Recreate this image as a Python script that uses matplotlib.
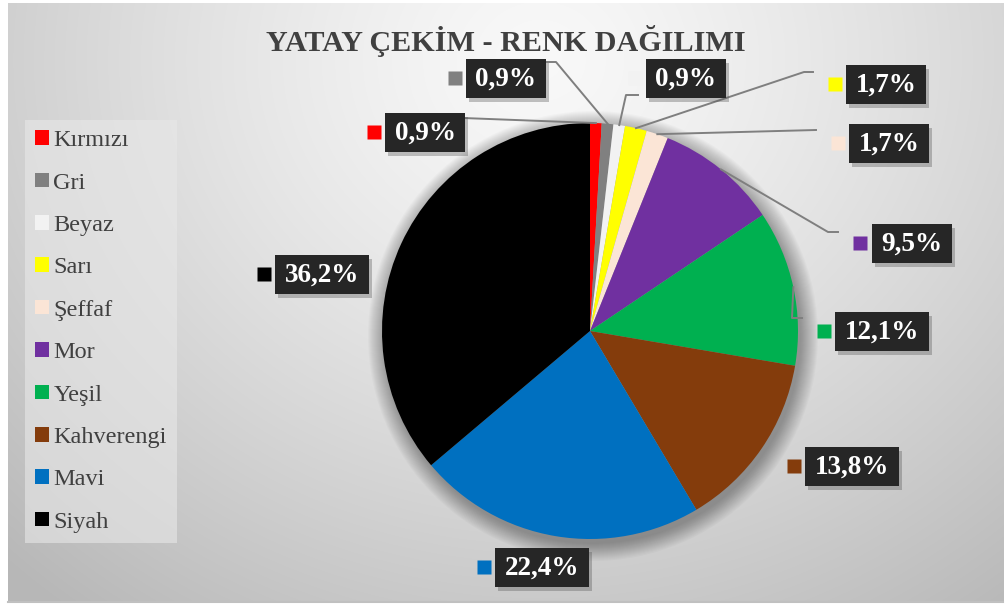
import numpy as np
import matplotlib.pyplot as plt
from matplotlib.patches import Rectangle, Circle, Patch

renkler = ['Kırmızı', 'Gri', 'Beyaz', 'Sarı', 'Şeffaf', 'Mor', 'Yeşil', 'Kahverengi', 'Mavi', 'Siyah']
yuzdeler = [0.9, 0.9, 0.9, 1.7, 1.7, 9.5, 12.1, 13.8, 22.4, 36.2]
dolgu = ['#FF0000', '#808080', '#F2F2F2', '#FFFF00', '#FBE5D6',
         '#7030A0', '#00B050', '#843C0C', '#0070C0', '#000000']
baslik = 'YATAY ÇEKİM - RENK DAĞILIMI'

W, H = 1005, 607
plt.rcParams['font.family'] = ['Liberation Serif', 'DejaVu Serif']

fig = plt.figure(figsize=(W / 100, H / 100), dpi=100)
ax = fig.add_axes([0, 0, 1, 1])

# arka plan (radyal gri gecis)
yy, xx = np.mgrid[0:H, 0:W]
d = np.hypot(xx - 540, (yy - 60) / 0.9)
g = np.clip(0.975 - 0.2 * (d / 640) ** 1.3, 0.72, 1)
img = np.ones((H, W, 3))
panel = (xx >= 8) & (xx <= 1003) & (yy >= 3) & (yy <= 602)
img[panel] = g[panel][:, None]
ax.imshow(img, extent=(0, W, H, 0), zorder=0)
ax.plot([8, 1003], [602, 602], color='#c0c0c0', lw=1.5, zorder=1)

# pasta golgesi
cx, cy, R = 590, 331, 208
for i in range(18):
    ax.add_patch(Circle((cx + 3, cy + 5), R + i * 1.0, color='black', alpha=0.02, lw=0, zorder=1))

wedges, _ = ax.pie(yuzdeler, colors=dolgu, startangle=-90, counterclock=True,
                   radius=R, center=(cx, cy), wedgeprops=dict(linewidth=0, zorder=2))
ax.set_xlim(0, W)
ax.set_ylim(H, 0)
ax.axis('off')

ax.text(506, 41, baslik, ha='center', va='center', fontsize=21.7, fontweight='bold', color='#404040')

# etiket kutulari
merkezler = [(425, 132), (506, 78), (686, 78), (886, 84), (889, 143),
             (912, 243), (882, 331), (852, 466), (542, 567), (322, 274)]
cizgiler = [[(463, 118)], [(546, 62), (556, 62)], [(638, 95), (626, 95)],
            [(813, 72), (804, 72)], [(816, 130)], [(838, 232), (828, 232)],
            [(802, 318), (792, 318)], None, None, None]

renderer = fig.canvas.get_renderer()
for w, v, c, (bx, by), yol in zip(wedges, yuzdeler, dolgu, merkezler, cizgiler):
    etiket = f'{v:.1f}%'.replace('.', ',')
    t = ax.text(bx, by + 1, etiket, ha='center', va='center', fontsize=19.5,
                fontweight='bold', color='white', zorder=6)
    bb = t.get_window_extent(renderer)
    bw, bh = bb.width + 19, 39
    ax.add_patch(Rectangle((bx - bw / 2 + 3, by - bh / 2 + 4), bw, bh, color='#555555',
                           alpha=0.35, lw=0, zorder=4))
    ax.add_patch(Rectangle((bx - bw / 2, by - bh / 2), bw, bh, color='#262626', lw=0, zorder=5))
    ax.plot(bx - bw / 2 - 11.5, by, marker='s', ms=9.5, color=c, mec='none', zorder=5)
    if yol:
        tm = np.deg2rad((w.theta1 + w.theta2) / 2)
        ucx, ucy = cx + R * np.cos(tm), cy + R * np.sin(tm)
        xs = [p[0] for p in yol] + [ucx]
        ys = [p[1] for p in yol] + [ucy]
        ax.plot(xs, ys, color='#7f7f7f', lw=1.4, zorder=3)

tutamaclar = [Patch(facecolor=c, edgecolor='none') for c in dolgu]
leg = ax.legend(tutamaclar, renkler, loc='upper left',
                bbox_to_anchor=(25 / W, 1 - 120 / H), bbox_transform=fig.transFigure,
                borderaxespad=0, labelspacing=0.88, handlelength=0.55,
                handleheight=0.55, handletextpad=0.2, borderpad=0.42, frameon=True,
                fancybox=False, labelcolor='#404040',
                prop={'family': ['Liberation Serif', 'DejaVu Serif'], 'size': 17.5})
leg.get_frame().set_facecolor('#e8e8e8')
leg.get_frame().set_alpha(0.6)
leg.get_frame().set_edgecolor('none')

fig.savefig('out.png', dpi=100)
